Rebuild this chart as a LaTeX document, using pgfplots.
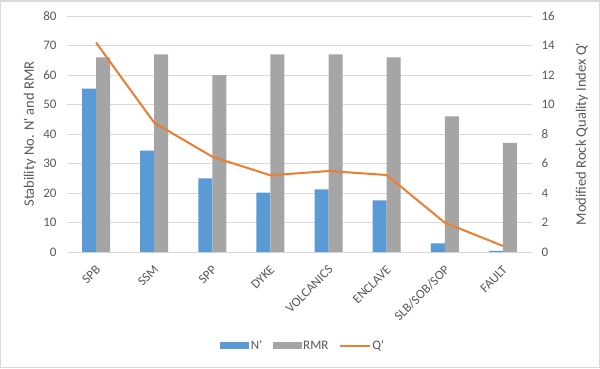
\documentclass[border=0pt]{standalone}
\usepackage{fontspec}
\setmainfont{Carlito}[Ligatures=TeXOff]
\usepackage{pgfplots}
\pgfplotsset{compat=1.18}
\definecolor{cblue}{HTML}{5B9BD5}
\definecolor{cgray}{HTML}{A5A5A5}
\definecolor{corange}{HTML}{ED7D31}
\definecolor{ctext}{HTML}{595959}
\definecolor{cgrid}{HTML}{D9D9D9}
\begin{document}
\begin{tikzpicture}[font=\fontsize{13}{15}\selectfont]
\fill[white] (-67pt,-116pt) rectangle (533pt,252pt);
\draw[cgrid, line width=1.5pt] (-66.25pt,-115.25pt) rectangle (532.25pt,251.25pt);
\begin{axis}[
  scale only axis, width=465pt, height=236pt,
  at={(0pt,0pt)}, anchor=south west,
  xmin=-0.5, xmax=7.5, ymin=0, ymax=80,
  ytick={0,10,...,80},
  xtick={0,...,7},
  xticklabels={SPB,SSM,SPP,DYKE,VOLCANICS,ENCLAVE,SLB/SOB/SOP,FAULT},
  xticklabel style={xshift=-1pt, yshift=-11pt, rotate=45, anchor=north east, inner sep=1pt},
  yticklabel style={xshift=-7pt},
  axis line style={draw=none},
  major tick length=0pt,
  ymajorgrids, grid style={cgrid, line width=0.8pt},
  tick label style={text=ctext},
  label style={text=ctext, font=\fontsize{14.5}{16}\selectfont},
  /pgf/number format/assume math mode=true,
  ylabel={Stability No. N' and RMR},
  ylabel style={at={(axis description cs:-0.0796,0.5)}, anchor=center},
  ybar, bar width=14pt,
  legend columns=3,
  legend style={draw=none, fill=none, at={(axis description cs:0.5075,-0.398)}, anchor=center,
    text=ctext, column sep=0pt, nodes={inner xsep=1.5pt},
    /tikz/every even column/.append style={column sep=9pt}},
  legend cell align=left,
]
\addplot[fill=cblue, draw=none, bar shift=-7pt,
  legend image code/.code={\fill[cblue] (0pt,-3.5pt) rectangle (29pt,3.5pt);}]
  coordinates {(0,55.4) (1,34.4) (2,25.0) (3,20.1) (4,21.2) (5,17.5) (6,2.9) (7,0.4)};
\addlegendentry{N'}
\addplot[fill=cgray, draw=none, bar shift=7pt,
  legend image code/.code={\fill[cgray] (0pt,-3.5pt) rectangle (29pt,3.5pt);}]
  coordinates {(0,66) (1,67) (2,60) (3,67) (4,67) (5,66) (6,46) (7,37)};
\addlegendentry{RMR}
\addlegendimage{legend image code/.code={\draw[corange, line width=2pt] (0pt,0pt) -- (30pt,0pt);}}
\addlegendentry{Q'}
\end{axis}
\begin{axis}[
  scale only axis, width=465pt, height=236pt,
  at={(0pt,0pt)}, anchor=south west,
  xmin=-0.5, xmax=7.5, ymin=0, ymax=16,
  ytick={0,2,...,16},
  xtick=\empty,
  axis x line=none,
  axis y line*=right,
  axis line style={draw=none},
  major tick length=0pt,
  yticklabel style={xshift=6pt},
  tick label style={text=ctext},
  label style={text=ctext, font=\fontsize{14.5}{16}\selectfont},
  /pgf/number format/assume math mode=true,
  ylabel={Modified Rock Quality Index Q'},
  ylabel style={at={(axis description cs:1.1075,0.5)}, anchor=center, rotate=0},
]
\addplot[corange, line width=2pt, mark=none]
  coordinates {(0,14.2) (1,8.77) (2,6.46) (3,5.2) (4,5.49) (5,5.22) (6,1.99) (7,0.41)};
\end{axis}
\end{tikzpicture}
\end{document}
